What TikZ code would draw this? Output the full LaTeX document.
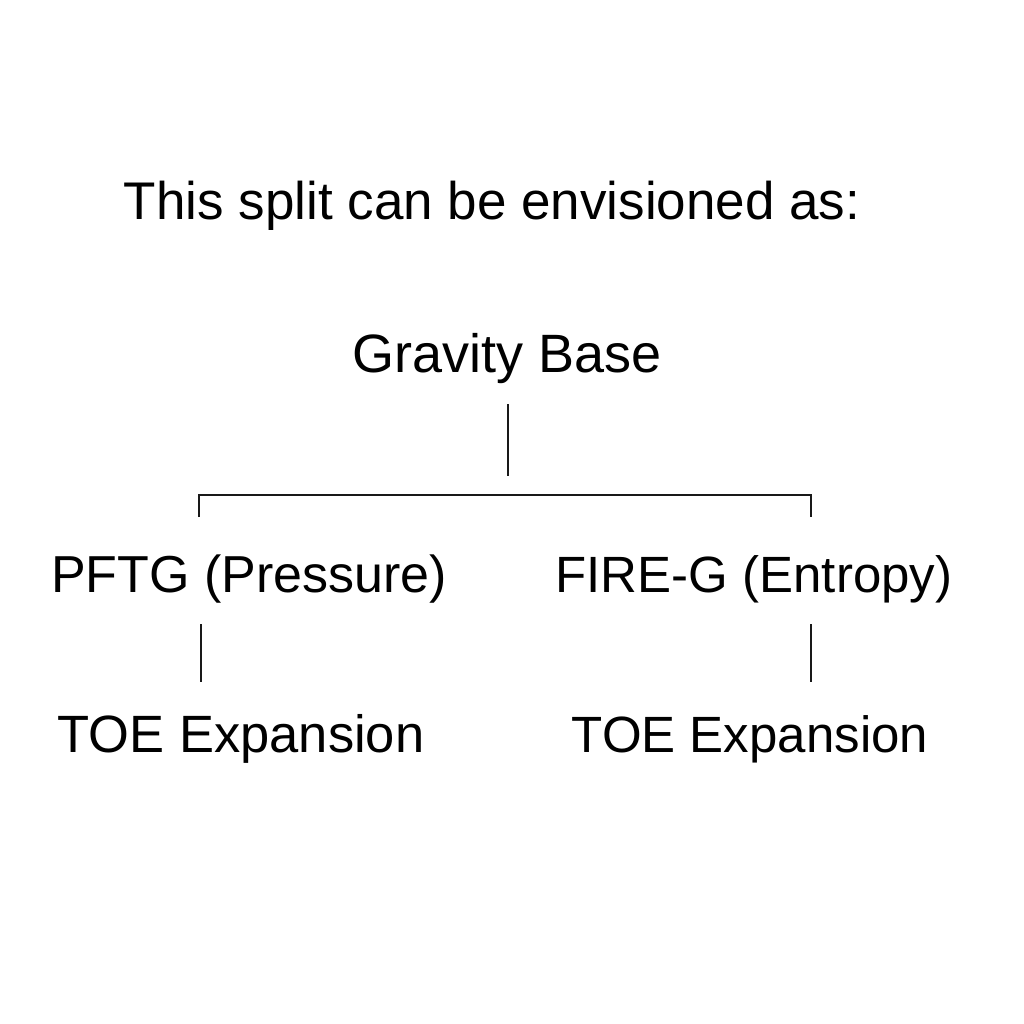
\documentclass[tikz,border=0pt]{standalone}
\usepackage{fontspec}
\setmainfont{Liberation Sans}
\begin{document}
\begin{tikzpicture}[x=1pt,y=-1pt,
  lbl/.style={anchor=base,inner sep=0pt,font=\fontsize{52}{60}\selectfont},
  conn/.style={line width=2.6pt,black!90}]
\useasboundingbox[fill=white] (0,0) rectangle (1024,1024);
\node[lbl,font=\fontsize{53}{60}\selectfont] (title) at (492,220) {This split can be envisioned as:};
\node[lbl,font=\fontsize{54}{60}\selectfont] (base) at (507,372) {Gravity Base};
\node[lbl] (pftg) at (249,592) {PFTG (Pressure)};
\node[lbl,font=\fontsize{51}{60}\selectfont] (fire) at (754,592) {FIRE-G (Entropy)};
\node[lbl,font=\fontsize{52.5}{60}\selectfont] (toeL) at (241,752) {TOE Expansion};
\node[lbl,font=\fontsize{51}{60}\selectfont] (toeR) at (750,752) {TOE Expansion};
\coordinate (bTop) at (508,404);
\coordinate (bBot) at (508,476);
\coordinate (hL) at (199,495);
\coordinate (hR) at (811,495);
\coordinate (tL) at (199,517);
\coordinate (tR) at (811,517);
\coordinate (lTop) at (201,624);
\coordinate (lBot) at (201,682);
\coordinate (rTop) at (811,624);
\coordinate (rBot) at (811,682);
\draw[conn] (bTop) -- (bBot);
\draw[conn] (tL) -- (hL) -- (hR) -- (tR);
\draw[conn] (lTop) -- (lBot);
\draw[conn] (rTop) -- (rBot);
\end{tikzpicture}
\end{document}
